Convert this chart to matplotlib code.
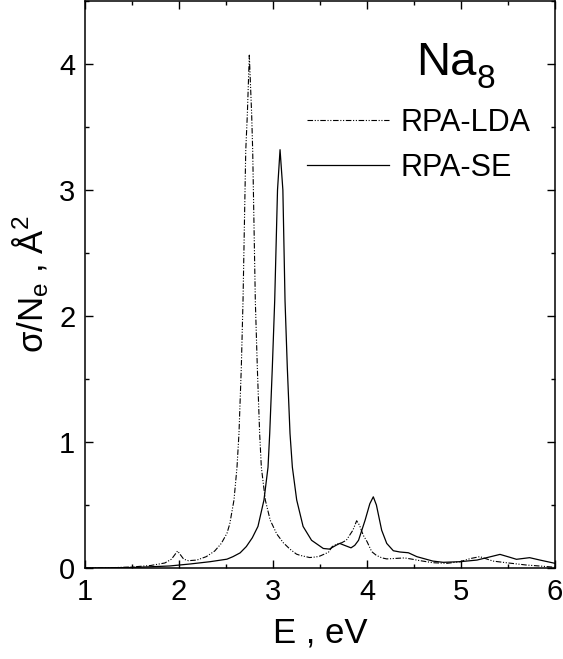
import matplotlib
matplotlib.use("Agg")
import matplotlib.pyplot as plt
from matplotlib.ticker import MultipleLocator

plt.rcParams['font.family'] = ['Liberation Sans', 'DejaVu Sans']
plt.rcParams['mathtext.fontset'] = 'custom'
plt.rcParams['mathtext.rm'] = 'Liberation Sans'
plt.rcParams['mathtext.it'] = 'Liberation Sans'
plt.rcParams['mathtext.bf'] = 'Liberation Sans'
plt.rcParams['mathtext.default'] = 'regular'

# RPA-LDA curve (energy in eV, sigma/Ne in A^2)
lda_E = [1.00, 1.30, 1.50, 1.70, 1.85, 1.92, 1.96, 1.985, 2.01, 2.05, 2.10, 2.19,
         2.29, 2.38, 2.45, 2.51, 2.54, 2.585, 2.617, 2.638, 2.663, 2.681, 2.71, 2.727,
         2.748, 2.773, 2.784, 2.812, 2.833, 2.858, 2.876, 2.918, 2.97, 3.04, 3.11, 3.18,
         3.25, 3.29, 3.39, 3.46, 3.50, 3.59, 3.63, 3.68, 3.73, 3.78, 3.85, 3.89,
         3.92, 3.96, 4.00, 4.05, 4.10, 4.16, 4.21, 4.30, 4.40, 4.48, 4.55, 4.70, 4.85,
         4.99, 5.10, 5.20, 5.28, 5.34, 5.48, 5.69, 5.85, 6.00]
lda_S = [0.000, 0.003, 0.008, 0.020, 0.040, 0.070, 0.110, 0.135, 0.110, 0.070, 0.058, 0.063,
         0.090, 0.135, 0.195, 0.275, 0.350, 0.540, 0.800, 1.067, 1.595, 2.120, 3.310, 3.600,
         4.070, 3.600, 3.310, 2.120, 1.595, 1.067, 0.800, 0.540, 0.380, 0.270, 0.200, 0.150,
         0.110, 0.100, 0.083, 0.088, 0.095, 0.125, 0.170, 0.190, 0.200, 0.220, 0.300, 0.375,
         0.340, 0.260, 0.210, 0.130, 0.100, 0.080, 0.072, 0.076, 0.080, 0.070, 0.060, 0.042, 0.037,
         0.050, 0.075, 0.090, 0.070, 0.055, 0.042, 0.024, 0.015, 0.006]

# RPA-SE curve
se_E = [1.00, 1.50, 1.90, 2.12, 2.33, 2.51, 2.574, 2.65, 2.716, 2.78, 2.84, 2.904, 2.947,
        2.965, 2.993, 3.018, 3.048, 3.075, 3.105, 3.128, 3.152, 3.181, 3.206, 3.252, 3.32,
        3.41, 3.535, 3.60, 3.67, 3.71, 3.76, 3.83, 3.87, 3.91, 3.98, 4.03, 4.067,
        4.10, 4.156, 4.21, 4.28, 4.35, 4.44, 4.53, 4.70, 4.81, 4.99, 5.17, 5.29, 5.415,
        5.52, 5.59, 5.73, 5.84, 6.00]
se_S = [0.000, 0.004, 0.016, 0.032, 0.050, 0.070, 0.090, 0.120, 0.170, 0.240, 0.330, 0.540, 0.800,
        1.067, 1.595, 2.120, 3.000, 3.320, 3.000, 2.120, 1.595, 1.067, 0.800, 0.540, 0.330,
        0.220, 0.155, 0.150, 0.180, 0.195, 0.180, 0.160, 0.180, 0.220, 0.380, 0.510, 0.565,
        0.500, 0.300, 0.195, 0.137, 0.127, 0.121, 0.090, 0.055, 0.045, 0.050, 0.063, 0.085, 0.108,
        0.085, 0.069, 0.082, 0.063, 0.037]

labels = ['RPA-LDA', 'RPA-SE']
x_ticks = [1, 2, 3, 4, 5, 6]
y_ticks = [0, 1, 2, 3, 4]

fig = plt.figure(figsize=(5.63, 6.59), dpi=100)
ax = fig.add_axes([85/563, 1-568/659, 470/563, 567/659])

ax.plot(lda_E, lda_S, color='black', lw=0.8,
        linestyle=(0, (5, 1.5, 1, 1.5, 1, 1.5)), label=labels[0])
ax.plot(se_E, se_S, color='black', lw=0.9, linestyle='-', label=labels[1])

ax.set_xlim(1, 6)
ax.set_ylim(0, 4.5)
ax.set_xticks(x_ticks)
ax.set_yticks(y_ticks)
ax.xaxis.set_minor_locator(MultipleLocator(0.5))
ax.yaxis.set_minor_locator(MultipleLocator(0.5))
ax.tick_params(which='both', direction='in', top=True, right=True, width=1.0)
ax.tick_params(which='major', length=5.5, labelsize=21, pad=7)
ax.tick_params(which='minor', length=3)
for s in ax.spines.values():
    s.set_linewidth(1.1)

ax.set_xlabel('E , eV', fontsize=25, labelpad=8)
ax.set_ylabel('σ/N$_e$ , Å$^2$', fontsize=25, labelpad=6)

na = ax.text(4.52, 3.91, 'Na', fontsize=34, ha='left', va='baseline')
ax.annotate('8', xy=(1, 0), xycoords=na, xytext=(0.5, -2), textcoords='offset points',
            fontsize=24, ha='left', va='baseline')

leg = ax.legend(loc='upper left', bbox_to_anchor=(0.472, 0.812), frameon=False,
                fontsize=22, handlelength=2.7, handletextpad=0.38,
                labelspacing=0.5, borderpad=0, borderaxespad=0)

fig.savefig('out.png', dpi=100)
